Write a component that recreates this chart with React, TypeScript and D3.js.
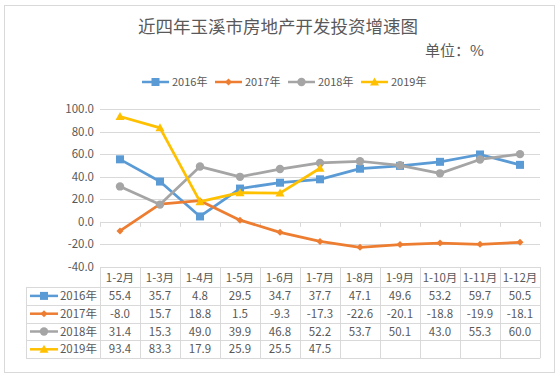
import React from "react";
import * as d3 from "d3";

const categories = ["1-2月", "1-3月", "1-4月", "1-5月", "1-6月", "1-7月", "1-8月", "1-9月", "1-10月", "1-11月", "1-12月"];
const seriesNames = ["2016年", "2017年", "2018年", "2019年"];
const s2016 = [55.4, 35.7, 4.8, 29.5, 34.7, 37.7, 47.1, 49.6, 53.2, 59.7, 50.5];
const s2017 = [-8.0, 15.7, 18.8, 1.5, -9.3, -17.3, -22.6, -20.1, -18.8, -19.9, -18.1];
const s2018 = [31.4, 15.3, 49.0, 39.9, 46.8, 52.2, 53.7, 50.1, 43.0, 55.3, 60.0];
const s2019: (number | null)[] = [93.4, 83.3, 17.9, 25.9, 25.5, 47.5, null, null, null, null, null];
const yTicks = [100, 80, 60, 40, 20, 0, -20, -40];
const colors = ["#5B9BD5", "#ED7D31", "#A5A5A5", "#FFC000"];
const markers = ["square", "diamond", "circle", "triangle"];

const FONT = "'Noto Sans CJK SC', 'Noto Sans', sans-serif";
const TXT = "#595959";

function Marker({ type, x, y, color }: { type: string; x: number; y: number; color: string }) {
  if (type === "square") return <rect x={x - 4} y={y - 4} width={8} height={8} fill={color} />;
  if (type === "diamond") return <path d={`M${x},${y - 3.5}L${x + 3.5},${y}L${x},${y + 3.5}L${x - 3.5},${y}Z`} fill={color} />;
  if (type === "circle") return <circle cx={x} cy={y} r={4.2} fill={color} />;
  return <path d={`M${x},${y - 4.5}L${x + 4.5},${y + 3.5}L${x - 4.5},${y + 3.5}Z`} fill={color} />;
}

const fmt = (v: number) => d3.format(".1f")(v).replace("\u2212", "-");

export default function App() {
  const W = 560, H = 378;
  const left = 100, right = 540, top = 109, bottom = 267;
  const x = d3.scaleBand<string>().domain(categories).range([left, right]);
  const y = d3.scaleLinear().domain([-40, 100]).range([bottom, top]);
  const series = [s2016, s2017, s2018, s2019];
  const line = d3
    .line<number | null>()
    .defined((d) => d !== null)
    .x((_, i) => (x(categories[i]) as number) + x.bandwidth() / 2)
    .y((d) => y(d as number));

  const headerTop = 267, headerBottom = 287, rowH = 17.8;
  const tableLeft = 26;

  const legendX = [142, 215, 288, 361];

  return (
    <svg width={W} height={H} style={{ position: "absolute", left: 0, top: 0 }}>
      <rect x={0} y={0} width={W} height={H} fill="#fff" />
      <rect x={4.5} y={5.5} width={550} height={367} fill="#fff" stroke="#D9D9D9" strokeWidth={1} />
      <text x={278} y={33} textAnchor="middle" fontFamily={FONT} fontSize={17.5} fill={TXT}>
        近四年玉溪市房地产开发投资增速图
      </text>
      <text x={425} y={56} fontFamily={FONT} fontSize={15} fill={TXT}>
        单位：%
      </text>
      {seriesNames.map((n, i) => (
        <g key={n}>
          <line x1={legendX[i]} x2={legendX[i] + 27} y1={82} y2={82} stroke={colors[i]} strokeWidth={2.5} />
          <Marker type={markers[i]} x={legendX[i] + 13.5} y={82} color={colors[i]} />
          <text x={legendX[i] + 30} y={86} fontFamily={FONT} fontSize={11} fill={TXT}>
            {n}
          </text>
        </g>
      ))}
      {yTicks.map((t) => (
        <g key={t}>
          {t !== 0 && (
            <line x1={left} x2={right} y1={Math.round(y(t)) + 0.5} y2={Math.round(y(t)) + 0.5} stroke="#D9D9D9" />
          )}
          <text x={94} y={y(t) + 4} textAnchor="end" fontFamily={FONT} fontSize={11.5} fill={TXT}>
            {fmt(t)}
          </text>
        </g>
      ))}
      <line x1={left} x2={right} y1={Math.round(y(0)) + 0.5} y2={Math.round(y(0)) + 0.5} stroke="#D9D9D9" />
      {categories.concat([""]).map((c, i) => {
        const xx = Math.round(left + i * x.step()) + 0.5;
        return <line key={"t" + i} x1={xx} x2={xx} y1={y(0)} y2={y(0) + 5} stroke="#D9D9D9" />;
      })}
      {series.map((s, i) => (
        <g key={"s" + i}>
          <path d={line(s) as string} fill="none" stroke={colors[i]} strokeWidth={2.75} strokeLinejoin="round" />
          {s.map((v, j) =>
            v === null ? null : (
              <Marker
                key={j}
                type={markers[i]}
                x={(x(categories[j]) as number) + x.bandwidth() / 2}
                y={y(v)}
                color={colors[i]}
              />
            )
          )}
        </g>
      ))}
      <g>
        {categories.concat([""]).map((c, i) => {
          const xx = Math.round(left + i * x.step()) + 0.5;
          return <line key={"v" + i} x1={xx} x2={xx} y1={headerTop} y2={headerBottom + rowH * 4} stroke="#D9D9D9" />;
        })}
        <line x1={tableLeft + 0.5} x2={tableLeft + 0.5} y1={headerBottom} y2={headerBottom + rowH * 4} stroke="#D9D9D9" />
        <line x1={left} x2={right} y1={headerTop + 0.5} y2={headerTop + 0.5} stroke="#D9D9D9" />
        {[0, 1, 2, 3, 4].map((r) => (
          <line
            key={"h" + r}
            x1={tableLeft}
            x2={right}
            y1={Math.round(headerBottom + r * rowH) + 0.5}
            y2={Math.round(headerBottom + r * rowH) + 0.5}
            stroke="#D9D9D9"
          />
        ))}
        {categories.map((c) => (
          <text
            key={"c" + c}
            x={(x(c) as number) + x.bandwidth() / 2}
            y={headerTop + 15}
            textAnchor="middle"
            fontFamily={FONT}
            fontSize={11.5}
            fill={TXT}
          >
            {c}
          </text>
        ))}
        {series.map((s, i) => {
          const cy = headerBottom + rowH * i + rowH / 2;
          return (
            <g key={"r" + i}>
              <line x1={30} x2={58} y1={cy} y2={cy} stroke={colors[i]} strokeWidth={2.5} />
              <Marker type={markers[i]} x={44} y={cy} color={colors[i]} />
              <text x={97} y={cy + 4} textAnchor="end" fontFamily={FONT} fontSize={11.5} fill={TXT}>
                {seriesNames[i]}
              </text>
              {s.map((v, j) =>
                v === null ? null : (
                  <text
                    key={j}
                    x={(x(categories[j]) as number) + x.bandwidth() / 2}
                    y={cy + 4}
                    textAnchor="middle"
                    fontFamily={FONT}
                    fontSize={11.5}
                    fill={TXT}
                  >
                    {fmt(v)}
                  </text>
                )
              )}
            </g>
          );
        })}
      </g>
    </svg>
  );
}
